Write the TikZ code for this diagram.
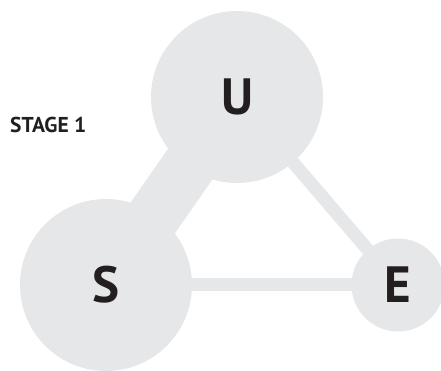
\documentclass[tikz,border=0pt]{standalone}
\usepackage{fontspec}
\setmainfont{PT Sans}
\usetikzlibrary{positioning,backgrounds}

\definecolor{bubblegray}{HTML}{E6E7E8}
\definecolor{inkdark}{HTML}{231F20}

\tikzset{
  bubble/.style={circle, fill=bubblegray, inner sep=0pt, text=inkdark,
    font=\fontsize{51}{51}\selectfont\bfseries},
  link/.style={draw=bubblegray, line width=13pt},
  biglink/.style={draw=bubblegray, line width=54pt}
}

\begin{document}
\begin{tikzpicture}[x=1pt,y=1pt]
\useasboundingbox (0,0) rectangle (441,371);
\node[bubble, minimum size=172pt] (U) at (237,274) {U};
\node[bubble, minimum size=172pt] (S) at (106,86) {S};
\node[bubble, minimum size=93pt] (E) at (398,86) {E};
\node[anchor=base west, inner sep=0pt, text=inkdark,
  font=\fontsize{21.5}{21.5}\selectfont\bfseries] (stage) at (10,238.5) {STAGE 1};
% connections
\begin{scope}[on background layer]
\draw[biglink] (U.center) -- (S.center);
\draw[link] (U.center) -- (E.center);
\draw[link] (S.center) -- (E.center);
\end{scope}
\end{tikzpicture}
\end{document}
